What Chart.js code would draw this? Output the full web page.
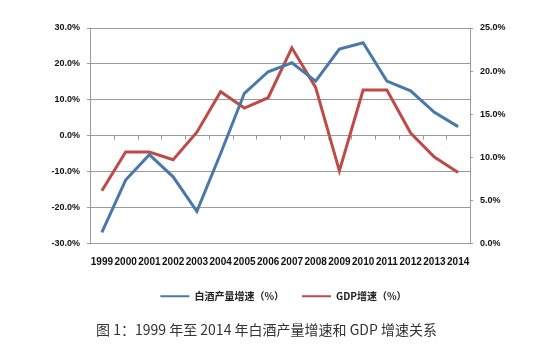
<!DOCTYPE html>
<html>
<head>
<meta charset="utf-8">
<script src="https://cdn.jsdelivr.net/npm/chart.js@4/dist/chart.umd.min.js"></script>
<style>
  html, body { margin: 0; padding: 0; background: #ffffff; }
  #wrap { width: 533px; height: 352px; position: relative; }
</style>
</head>
<body>
<div id="wrap"><canvas id="c" width="533" height="352"></canvas></div>
<script>
const years = ['1999','2000','2001','2002','2003','2004','2005','2006','2007','2008','2009','2010','2011','2012','2013','2014'];
const liquorGrowth = [-27.0, -12.4, -5.3, -11.5, -21.1, -5.0, 11.8, 17.8, 20.3, 15.2, 24.1, 25.9, 15.2, 12.5, 6.5, 2.5];
const gdpGrowth = [6.1, 10.6, 10.6, 9.7, 12.9, 17.6, 15.7, 16.9, 22.7, 18.1, 8.4, 17.8, 17.8, 12.8, 10.0, 8.2];
const seriesNames = ['白酒产量增速（%）', 'GDP增速（%）'];
const captionText = '图 1：1999 年至 2014 年白酒产量增速和 GDP 增速关系';

const blue = '#4a79a8';
const red = '#be4b48';
const gridColor = '#9a9a9a';
const yTickFont = { family: 'Liberation Sans, Arial, sans-serif', size: 9, weight: 'bold' };
const xTickFont = { family: 'Liberation Sans, Arial, sans-serif', size: 10, weight: 'bold' };

// Small category-boundary tick marks on the 0% line (Excel-style crossing axis)
const zeroTicks = {
  id: 'zeroTicks',
  afterDatasetsDraw(chart) {
    const x = chart.scales.x, y = chart.scales.y;
    const y0 = y.getPixelForValue(0);
    const ctx = chart.ctx;
    ctx.save();
    ctx.strokeStyle = gridColor;
    ctx.lineWidth = 1;
    const n = x.ticks.length;
    const step = (x.getPixelForValue(1) - x.getPixelForValue(0));
    for (let i = 1; i < n; i++) {
      const px = Math.round(x.getPixelForValue(i) - step / 2) + 0.5;
      ctx.beginPath();
      ctx.moveTo(px, y0);
      ctx.lineTo(px, y0 + 4);
      ctx.stroke();
    }
    ctx.restore();
  }
};

// Nudge the legend block to the right, as in the reference
const legendShift = {
  id: 'legendShift',
  afterLayout(chart) {
    if (chart.legend) { chart.legend.left += 17; chart.legend.right += 17; }
  }
};

new Chart(document.getElementById('c'), {
  type: 'line',
  data: {
    labels: years,
    datasets: [
      { label: seriesNames[0], data: liquorGrowth, yAxisID: 'y', borderColor: blue, backgroundColor: blue,
        borderWidth: 3, pointRadius: 0, tension: 0, fill: false },
      { label: seriesNames[1], data: gdpGrowth, yAxisID: 'y1', borderColor: red, backgroundColor: red,
        borderWidth: 3, pointRadius: 0, tension: 0, fill: false }
    ]
  },
  options: {
    responsive: false,
    animation: false,
    devicePixelRatio: 1,
    layout: { padding: { left: 0, right: 0, top: 28, bottom: 10 } },
    plugins: {
      tooltip: { enabled: false },
      legend: {
        position: 'bottom',
        labels: {
          boxWidth: 29,
          boxHeight: 2,
          padding: 18,
          color: '#222',
          font: { family: 'Noto Sans CJK SC', size: 10, weight: 'bold' },
          generateLabels(chart) {
            return Chart.defaults.plugins.legend.labels.generateLabels(chart).map(l => Object.assign(l, { lineWidth: 0 }));
          }
        }
      },
      title: {
        display: true,
        position: 'bottom',
        text: captionText,
        color: '#333',
        font: { family: 'Noto Sans CJK SC', size: 14, weight: 'normal' },
        padding: { top: 10, bottom: 4 }
      }
    },
    scales: {
      x: {
        offset: true,
        grid: { display: false, drawTicks: false },
        border: { display: false },
        ticks: { autoSkip: false, maxRotation: 0, minRotation: 0, padding: 13, color: '#111', font: xTickFont },
        afterFit(s) { s.height = 30; }
      },
      y: {
        position: 'left',
        min: -30, max: 30,
        grid: { color: gridColor, lineWidth: 1, tickLength: 3 },
        border: { display: true, color: gridColor },
        ticks: { stepSize: 10, padding: 7, color: '#111', font: yTickFont,
          callback: v => v.toFixed(1) + '%' },
        afterFit(s) { s.width = 90; }
      },
      y1: {
        position: 'right',
        min: 0, max: 25,
        grid: { drawOnChartArea: false, color: gridColor, tickLength: 3 },
        border: { display: true, color: gridColor },
        ticks: { stepSize: 5, padding: 7, color: '#111', font: yTickFont,
          callback: v => v.toFixed(1) + '%' },
        afterFit(s) { s.width = 63; }
      }
    }
  },
  plugins: [zeroTicks, legendShift]
});
</script>
</body>
</html>
